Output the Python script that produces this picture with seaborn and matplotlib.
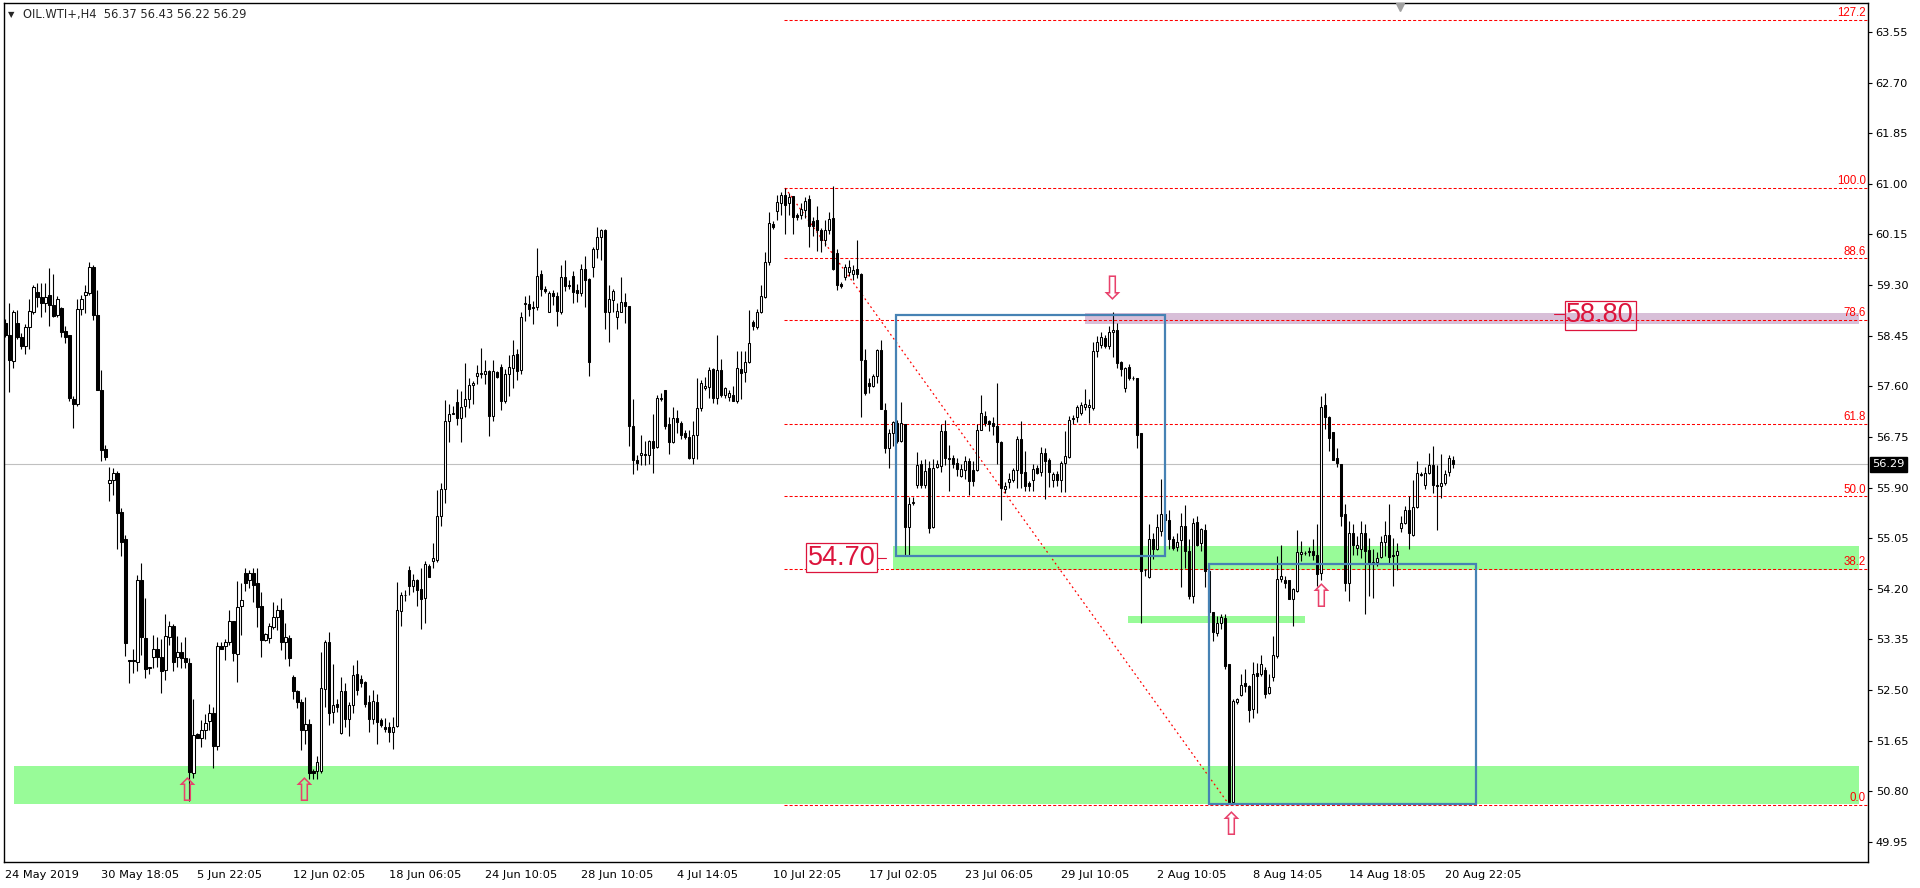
import matplotlib
matplotlib.use("Agg")
import matplotlib.pyplot as plt
import seaborn as sns
import pandas as pd
import numpy as np
from matplotlib.patches import Rectangle

# H4 bars of OIL.WTI+ (bar 0 = 24 May 2019)
opens = [
    58.67, 58.47, 58.02, 58.67, 58.43, 58.28, 58.59, 58.85, 59.18, 59.10,
    59.00, 59.13, 58.97, 58.79, 58.92, 58.53, 58.46, 57.39, 57.30, 58.90,
    59.13, 59.16, 59.60, 58.80, 57.54, 56.54, 55.98, 56.03, 56.14, 55.49,
    55.03, 53.00, 53.00, 52.97, 54.35, 53.38, 52.87, 53.06, 53.18, 53.05,
    52.83, 53.39, 53.58, 53.06, 53.13, 53.03, 52.96, 51.11, 51.76, 51.69,
    51.83, 51.97, 52.12, 51.56, 53.23, 53.23, 53.30, 53.66, 53.11, 53.91,
    54.47, 54.34, 54.47, 54.29, 53.91, 53.34, 53.37, 53.56, 53.72, 53.84,
    53.30, 53.37, 52.72, 52.49, 52.30, 51.82, 51.92, 51.14, 51.14, 51.14,
    52.52, 53.31, 52.13, 52.26, 51.78, 52.49, 52.01, 52.24, 52.77, 52.69,
    52.63, 52.29, 52.01, 52.30, 51.99, 51.88, 51.88, 51.80, 51.90, 53.83,
    54.09, 54.52, 54.24, 54.35, 54.20, 54.04, 54.58, 54.66, 54.68, 55.42,
    55.88, 57.01, 57.14, 57.33, 57.06, 57.27, 57.38, 57.63, 57.77, 57.81,
    57.80, 57.86, 57.10, 57.84, 57.93, 57.35, 57.81, 57.91, 58.15, 57.87,
    58.99, 58.99, 58.94, 58.93, 59.48, 59.24, 58.84, 59.16, 59.12, 58.84,
    59.44, 59.31, 59.46, 59.21, 59.16, 59.57, 59.40, 59.60, 59.91, 60.11,
    60.23, 58.84, 59.05, 58.77, 58.84, 59.01, 58.95, 56.94, 56.37, 56.45,
    56.47, 56.44, 56.68, 56.58, 57.39, 57.54, 56.97, 56.66, 57.07, 56.99,
    56.81, 56.75, 56.40, 56.79, 57.24, 57.57, 57.59, 57.89, 57.41, 57.88,
    57.46, 57.42, 57.46, 57.35, 57.89, 57.84, 58.00, 58.68, 58.60, 58.84,
    59.10, 59.68, 60.33, 60.54, 60.68, 60.82, 60.68, 60.79, 60.47, 60.48,
    60.56, 60.75, 60.37, 60.39, 60.22, 60.05, 60.22, 60.43, 59.84, 59.32,
    59.44, 59.52, 59.49, 59.57, 59.49, 58.05, 57.65, 57.61, 57.78, 58.21,
    57.21, 56.56, 56.81, 56.98, 56.68, 56.96, 55.24, 55.64, 55.95, 56.29,
    55.95, 56.23, 55.24, 56.25, 56.26, 56.85, 56.38, 56.40, 56.31, 56.09,
    56.19, 56.34, 56.19, 56.19, 56.87, 57.10, 57.01, 56.98, 56.93, 56.66,
    55.87, 55.99, 56.03, 56.19, 56.72, 56.16, 55.97, 56.02, 56.23, 56.16,
    56.48, 56.36, 56.02, 56.12, 56.02, 56.31, 56.41, 57.05, 57.09, 57.15,
    57.26, 57.25, 57.24, 58.19, 58.30, 58.41, 58.27, 58.51, 58.54, 58.00,
    57.57, 57.93, 57.74, 57.74, 56.81, 54.52, 54.40, 55.04, 54.87, 55.17,
    55.46, 55.36, 55.04, 54.90, 55.02, 55.25, 54.83, 54.08, 55.32, 54.97,
    55.19, 54.50, 53.81, 53.46, 53.62, 53.71, 52.93, 50.61, 52.30, 52.41,
    52.61, 52.57, 52.18, 52.78, 52.76, 52.84, 52.45, 52.72, 53.07, 54.37,
    54.35, 54.34, 54.03, 54.16, 54.79, 54.80, 54.83, 54.83, 54.77, 54.47,
    57.28, 57.09, 56.84, 56.40, 56.30, 55.46, 54.29, 55.13, 54.89, 54.87,
    55.14, 54.85, 54.61, 54.65, 54.74, 54.98, 55.11, 54.77, 54.76, 55.22,
    55.31, 55.53, 55.11, 55.57, 56.11, 55.95, 56.15, 56.27, 55.95, 55.93,
    55.97, 56.16, 56.37,
]
highs = [
    58.73, 59.00, 58.88, 58.89, 58.49, 58.64, 59.06, 59.30, 59.33, 59.34,
    59.33, 59.58, 59.49, 59.12, 58.94, 58.62, 58.46, 57.44, 59.06, 59.13,
    59.30, 59.69, 59.64, 59.22, 57.87, 56.61, 56.24, 56.22, 56.17, 55.55,
    55.11, 53.01, 53.19, 54.43, 54.64, 54.04, 52.89, 53.42, 53.39, 53.36,
    53.78, 53.66, 53.60, 53.41, 53.30, 53.39, 53.03, 52.34, 51.77, 51.99,
    52.10, 52.27, 52.22, 53.31, 53.31, 53.35, 53.85, 53.66, 54.33, 54.30,
    54.55, 54.52, 54.55, 54.55, 54.15, 53.45, 53.62, 53.98, 53.92, 54.04,
    53.62, 53.42, 52.75, 52.50, 52.34, 52.38, 52.01, 51.17, 51.39, 53.13,
    53.34, 53.47, 52.94, 52.35, 52.71, 52.61, 52.29, 52.92, 53.00, 52.75,
    52.65, 52.41, 52.50, 52.44, 52.03, 52.03, 51.96, 52.04, 54.32, 54.15,
    54.18, 54.58, 54.45, 54.37, 54.55, 54.66, 54.61, 54.96, 55.86, 55.98,
    57.37, 57.30, 57.27, 57.55, 57.52, 57.99, 57.74, 57.69, 57.95, 58.24,
    58.05, 57.88, 58.05, 57.85, 57.98, 57.89, 58.12, 58.38, 58.22, 58.84,
    59.11, 59.14, 59.04, 59.92, 59.55, 59.28, 59.20, 59.21, 59.18, 59.64,
    59.73, 59.38, 59.53, 59.32, 59.66, 59.79, 59.42, 59.94, 60.28, 60.24,
    60.24, 59.31, 59.24, 59.00, 59.44, 59.17, 58.95, 57.38, 56.44, 56.79,
    56.68, 56.70, 57.14, 57.46, 57.48, 57.54, 57.09, 57.25, 57.20, 57.01,
    56.86, 56.87, 57.01, 57.74, 57.70, 57.76, 57.93, 57.91, 58.47, 58.06,
    57.59, 57.53, 57.61, 58.19, 58.19, 58.19, 58.89, 58.71, 58.90, 59.31,
    59.85, 60.52, 60.37, 60.82, 60.87, 60.93, 60.85, 60.80, 60.51, 60.68,
    60.78, 60.82, 60.45, 60.63, 60.26, 60.40, 60.52, 60.96, 59.91, 59.36,
    59.66, 59.73, 59.63, 60.06, 59.50, 58.22, 57.74, 57.81, 58.23, 58.37,
    57.32, 56.88, 57.01, 57.04, 57.33, 56.96, 55.74, 55.74, 56.49, 56.37,
    56.38, 56.34, 56.38, 56.36, 56.97, 57.03, 56.61, 56.45, 56.40, 56.29,
    56.43, 56.40, 56.34, 56.96, 57.46, 57.18, 57.03, 57.09, 57.65, 56.68,
    56.00, 56.15, 56.23, 56.76, 57.01, 56.51, 56.01, 56.30, 56.27, 56.58,
    56.57, 56.40, 56.16, 56.17, 56.34, 56.85, 57.10, 57.11, 57.28, 57.33,
    57.56, 57.39, 58.34, 58.44, 58.52, 58.47, 58.62, 58.84, 58.66, 58.02,
    57.92, 57.98, 57.77, 57.74, 56.81, 54.53, 55.28, 55.13, 55.45, 56.04,
    55.53, 55.52, 55.08, 55.13, 55.48, 55.61, 55.03, 55.39, 55.43, 55.22,
    55.29, 54.58, 53.81, 53.75, 53.77, 53.77, 52.93, 52.34, 52.37, 52.76,
    52.86, 52.59, 52.97, 52.96, 53.08, 52.89, 52.76, 53.41, 54.75, 54.93,
    54.41, 54.35, 54.21, 55.19, 55.00, 54.83, 54.90, 55.03, 55.29, 57.43,
    57.48, 57.10, 56.84, 56.56, 56.30, 55.63, 55.33, 55.28, 55.09, 55.33,
    55.29, 55.05, 54.86, 54.81, 55.08, 55.33, 55.63, 55.05, 54.97, 55.42,
    55.59, 55.75, 56.03, 56.34, 56.16, 56.25, 56.48, 56.60, 56.27, 56.47,
    56.20, 56.45, 56.43,
]
lows = [
    58.43, 57.51, 57.90, 58.40, 58.23, 58.14, 58.23, 58.82, 58.94, 58.77,
    58.85, 58.62, 58.76, 58.76, 58.43, 58.32, 57.35, 56.90, 57.27, 58.80,
    58.83, 59.13, 58.71, 57.53, 56.35, 56.37, 55.67, 55.77, 54.87, 54.75,
    53.07, 52.62, 52.79, 52.81, 53.09, 52.70, 52.76, 52.87, 52.88, 52.45,
    52.67, 53.25, 52.82, 52.88, 52.87, 52.87, 50.63, 51.02, 51.69, 51.55,
    51.67, 51.83, 51.19, 51.49, 53.18, 53.01, 53.25, 52.99, 52.64, 53.42,
    54.16, 54.21, 53.98, 53.56, 53.06, 53.33, 53.29, 53.53, 53.50, 53.17,
    53.02, 52.91, 52.35, 52.19, 51.49, 51.60, 51.01, 51.01, 51.01, 51.10,
    52.22, 51.91, 51.95, 52.13, 51.76, 51.88, 51.72, 52.11, 52.41, 52.55,
    52.21, 51.79, 51.93, 51.60, 51.88, 51.79, 51.62, 51.51, 51.88, 53.58,
    54.00, 54.09, 54.15, 53.91, 53.53, 53.62, 54.39, 54.54, 54.65, 55.26,
    55.64, 56.67, 57.13, 56.95, 56.67, 57.08, 57.24, 57.31, 57.64, 57.74,
    57.64, 56.76, 57.01, 57.74, 57.20, 57.32, 57.44, 57.57, 57.70, 57.81,
    58.69, 58.78, 58.65, 58.88, 59.11, 59.16, 58.84, 58.97, 58.61, 58.82,
    59.20, 59.23, 59.00, 59.01, 59.12, 58.93, 57.77, 59.44, 59.76, 59.72,
    58.56, 58.34, 58.84, 58.56, 58.84, 58.66, 56.60, 56.12, 56.19, 56.27,
    56.27, 56.29, 56.14, 56.57, 57.35, 56.88, 56.47, 56.64, 56.82, 56.71,
    56.72, 56.38, 56.30, 56.38, 57.18, 57.53, 57.41, 57.32, 57.31, 57.42,
    57.41, 57.35, 57.35, 57.32, 57.39, 57.68, 57.99, 58.54, 58.56, 58.83,
    59.08, 59.63, 60.24, 60.39, 60.47, 60.16, 60.47, 60.16, 60.40, 60.41,
    60.43, 59.94, 60.13, 59.87, 59.85, 59.96, 60.16, 59.55, 59.21, 59.25,
    59.38, 59.46, 59.38, 59.42, 57.09, 57.46, 57.49, 57.59, 57.65, 57.22,
    56.48, 56.23, 56.59, 56.65, 56.66, 54.76, 54.76, 55.61, 55.89, 55.89,
    55.89, 55.13, 55.22, 56.23, 56.16, 56.27, 55.84, 56.23, 56.09, 56.08,
    56.05, 55.77, 55.93, 56.17, 56.86, 56.93, 56.85, 56.79, 56.29, 55.35,
    55.81, 55.89, 55.99, 55.89, 55.89, 55.84, 55.84, 55.84, 56.13, 56.10,
    55.71, 55.91, 55.91, 55.93, 55.82, 55.82, 56.40, 56.96, 57.00, 57.11,
    57.20, 56.98, 57.21, 58.09, 58.24, 58.24, 58.23, 58.09, 57.91, 57.78,
    57.50, 57.71, 57.71, 56.57, 53.63, 54.41, 54.38, 54.70, 54.85, 55.08,
    55.30, 54.86, 54.85, 54.83, 54.23, 54.55, 54.02, 53.96, 54.91, 54.83,
    54.23, 53.77, 53.32, 53.41, 53.53, 52.86, 50.59, 50.59, 52.26, 52.40,
    52.46, 51.96, 52.03, 52.12, 52.74, 52.37, 52.44, 52.65, 53.04, 54.31,
    54.21, 54.03, 53.57, 54.14, 54.66, 54.77, 54.75, 54.69, 54.24, 54.35,
    56.88, 56.51, 56.36, 56.25, 55.25, 54.16, 53.99, 54.77, 54.76, 54.72,
    53.77, 54.07, 54.05, 54.58, 54.72, 54.75, 54.61, 54.24, 54.52, 55.15,
    55.29, 54.86, 55.09, 55.56, 56.09, 55.88, 56.13, 55.81, 55.18, 55.73,
    55.95, 56.10, 56.22,
]
closes = [
    58.46, 58.04, 58.85, 58.43, 58.28, 58.59, 58.86, 59.26, 59.10, 59.00,
    59.10, 58.97, 58.78, 59.07, 58.52, 58.43, 57.41, 57.30, 58.90, 59.06,
    59.18, 59.60, 58.80, 57.54, 56.53, 56.42, 56.03, 56.15, 55.47, 54.99,
    53.29, 52.98, 52.98, 54.35, 53.39, 52.85, 52.88, 53.19, 53.06, 52.82,
    53.41, 53.57, 52.97, 53.13, 53.03, 52.97, 51.13, 51.74, 51.70, 51.83,
    51.95, 52.11, 51.56, 53.23, 53.19, 53.31, 53.66, 53.12, 53.90, 54.01,
    54.30, 54.47, 54.27, 53.90, 53.34, 53.44, 53.58, 53.73, 53.84, 53.31,
    53.39, 53.04, 52.49, 52.30, 51.82, 51.93, 51.11, 51.10, 51.29, 52.54,
    53.31, 52.11, 52.24, 52.21, 52.49, 52.01, 52.24, 52.75, 52.50, 52.61,
    52.26, 52.01, 52.32, 51.96, 51.91, 51.85, 51.79, 51.88, 53.85, 54.10,
    54.10, 54.24, 54.34, 54.18, 54.03, 54.61, 54.40, 54.71, 55.42, 55.88,
    57.01, 57.14, 57.16, 57.07, 57.26, 57.38, 57.63, 57.66, 57.83, 57.83,
    57.85, 57.10, 57.85, 57.76, 57.35, 57.80, 57.93, 58.13, 57.85, 58.77,
    59.00, 58.90, 58.92, 59.46, 59.24, 59.20, 59.16, 59.12, 58.86, 59.44,
    59.28, 59.29, 59.18, 59.17, 59.57, 59.39, 58.00, 59.91, 60.11, 60.22,
    58.84, 59.07, 59.20, 58.86, 59.01, 58.95, 56.94, 56.36, 56.32, 56.48,
    56.44, 56.68, 56.57, 57.40, 57.40, 56.94, 56.66, 57.07, 57.00, 56.79,
    56.75, 56.40, 56.79, 57.24, 57.65, 57.60, 57.88, 57.41, 57.88, 57.46,
    57.57, 57.48, 57.35, 57.91, 57.82, 58.00, 58.33, 58.61, 58.84, 59.11,
    59.68, 60.34, 60.28, 60.69, 60.82, 60.65, 60.78, 60.44, 60.44, 60.57,
    60.72, 60.29, 60.30, 60.22, 60.06, 60.22, 60.41, 59.57, 59.31, 59.29,
    59.60, 59.60, 59.56, 59.49, 58.05, 57.48, 57.61, 57.78, 58.21, 57.22,
    56.56, 56.82, 57.00, 56.68, 56.98, 55.24, 55.63, 55.65, 56.27, 55.95,
    56.17, 55.22, 56.23, 56.29, 56.85, 56.40, 56.40, 56.30, 56.21, 56.21,
    56.34, 56.01, 56.01, 56.87, 57.16, 56.98, 56.96, 56.93, 56.66, 55.89,
    55.93, 56.04, 56.20, 56.71, 56.15, 55.93, 55.92, 56.21, 56.15, 56.48,
    56.34, 56.16, 56.12, 56.02, 56.31, 56.43, 57.03, 57.07, 57.25, 57.28,
    57.31, 57.28, 58.19, 58.34, 58.43, 58.27, 58.52, 58.54, 57.99, 57.89,
    57.91, 57.74, 57.74, 56.79, 54.50, 54.51, 55.04, 54.87, 55.24, 55.46,
    55.36, 55.03, 54.89, 54.99, 55.26, 54.83, 54.08, 55.31, 54.94, 55.21,
    54.50, 53.81, 53.47, 53.63, 53.73, 52.91, 50.61, 52.31, 52.34, 52.59,
    52.56, 52.16, 52.76, 52.74, 52.93, 52.44, 52.55, 53.08, 54.37, 54.41,
    54.29, 54.03, 54.19, 54.81, 54.81, 54.80, 54.81, 54.76, 54.44, 57.26,
    57.09, 56.73, 56.37, 56.31, 55.43, 54.29, 55.13, 54.94, 54.94, 55.14,
    54.83, 54.61, 54.65, 54.72, 54.99, 55.11, 54.73, 54.75, 54.83, 55.31,
    55.53, 55.13, 55.57, 56.15, 56.13, 56.15, 56.27, 55.95, 55.93, 55.98,
    56.12, 56.40, 56.29,
]

date_labels = ["24 May 2019", "30 May 18:05", "5 Jun 22:05", "12 Jun 02:05",
               "18 Jun 06:05", "24 Jun 10:05", "28 Jun 10:05", "4 Jul 14:05",
               "10 Jul 22:05", "17 Jul 02:05", "23 Jul 06:05", "29 Jul 10:05",
               "2 Aug 10:05", "8 Aug 14:05", "14 Aug 18:05", "20 Aug 22:05"]
date_label_bars = [0, 24, 48, 72, 96, 120, 144, 168, 192, 216, 240, 264, 288, 312, 336, 360]
price_ticks = [49.95, 50.80, 51.65, 52.50, 53.35, 54.20, 55.05, 55.90,
               56.75, 57.60, 58.45, 59.30, 60.15, 61.00, 61.85, 62.70, 63.55]

fib_levels = [0.0, 38.2, 50.0, 61.8, 78.6, 88.6, 100.0, 127.2]
fib_high, fib_low = 60.93, 50.57
fib_bars = [195, 306]

last_price = 56.29
support_label, resist_label = "54.70", "58.80"

df = pd.DataFrame({"open": opens, "high": highs, "low": lows, "close": closes})
df["bar"] = np.arange(len(df))

sns.set_style("white")
plt.rcParams["font.family"] = ["DejaVu Sans"]
plt.rcParams["lines.scale_dashes"] = False

W, H = 1920, 888
fig = plt.figure(figsize=(W / 100, H / 100), dpi=100)
ax = fig.add_axes([4 / W, 1 - 862 / H, 1864 / W, 858.5 / H])
ax.set_xlim(-0.33, 465.7)
ax.set_ylim(49.61, 64.03)

RED = "#FF0000"
CRIMSON = "#DC143C"
BLUE = "#4682B4"
GREEN = "#98FB98"
PINK_ARROW = "#E8416B"

# zones
ax.add_patch(Rectangle((2.1, 50.58), 461.3, 0.65, fc=GREEN, ec="none", zorder=1))
ax.add_patch(Rectangle((222.0, 54.52), 241.4, 0.39, fc=GREEN, ec="none", zorder=1))
ax.add_patch(Rectangle((280.7, 53.63), 44.3, 0.12, fc=GREEN, ec="none", zorder=1))
ax.add_patch(Rectangle((269.9, 58.64), 193.5, 0.19, fc="#D8BFD8", ec="none", zorder=1))

# current price line
ax.axhline(last_price, color="#C0C0C0", lw=0.8, zorder=1.5)

# fibonacci
span = fib_high - fib_low
for lvl in fib_levels:
    p = fib_low + span * lvl / 100
    ax.plot([fib_bars[0] - 0.3, 465.7], [p, p], color=RED, lw=0.75,
            dashes=(2.2, 1.45), zorder=2)
    ax.annotate(f"{lvl:.1f}", xy=(1, p), xycoords=("axes fraction", "data"),
                xytext=(-1.5, 0.6), textcoords="offset points", ha="right", va="bottom",
                color=RED, fontsize=8.3, family="Liberation Sans", zorder=6)
sns.lineplot(x=fib_bars, y=[fib_high, fib_low], ax=ax, color=RED, lw=0.9,
             dashes=False, zorder=2).lines[-1].set_dashes((1.3, 2.2))

# candles
up = df["close"] >= df["open"]
body_lo = df[["open", "close"]].min(axis=1)
body_h = (df["close"] - df["open"]).abs()
ax.vlines(df["bar"], df["low"], df["high"], color="black", lw=0.8, zorder=3)
ax.bar(df["bar"][up], body_h[up], bottom=body_lo[up], width=0.6, color="white",
       edgecolor="black", linewidth=0.75, zorder=4)
ax.bar(df["bar"][~up], body_h[~up], bottom=body_lo[~up], width=0.6, color="black",
       edgecolor="black", linewidth=0.75, zorder=4)

# boxes
ax.add_patch(Rectangle((222.8, 54.75), 67.1, 4.05, fill=False, ec=BLUE, lw=1.6, zorder=5))
ax.add_patch(Rectangle((300.9, 50.58), 66.7, 4.03, fill=False, ec=BLUE, lw=1.6, zorder=5))

# price labels
ax.plot([217.4, 220.2], [54.72, 54.72], color=CRIMSON, lw=0.8, zorder=6)
ax.text(200.7, 54.72, support_label, ha="left", va="center", fontsize=19.5,
        family="Liberation Sans", color=CRIMSON, zorder=7,
        bbox=dict(boxstyle="square,pad=0.06", fc="white", ec=CRIMSON, lw=0.9))
ax.plot([387.2, 389.8], [58.81, 58.81], color=CRIMSON, lw=0.8, zorder=6)
ax.text(390.3, 58.79, resist_label, ha="left", va="center", fontsize=19.5,
        family="Liberation Sans", color=CRIMSON, zorder=7,
        bbox=dict(boxstyle="square,pad=0.06", fc="none", ec=CRIMSON, lw=0.9))

# hollow arrows
for b, p, ch in [(45.5, 50.77, "\u21e7"), (74.6, 50.77, "\u21e7"), (306.4, 50.21, "\u21e7"),
                 (329.0, 54.03, "\u21e7"), (276.8, 59.21, "\u21e9")]:
    ax.text(b, p, ch, ha="center", va="center", fontsize=23, color=PINK_ARROW, zorder=7)

# shift marker
ax.plot([348.7], [63.97], marker="v", color="#A0A0A0", ms=6, clip_on=False, zorder=8)

# axes styling
ax.yaxis.tick_right()
ax.set_yticks(price_ticks)
ax.set_yticklabels([f"{p:.2f}" for p in price_ticks])
ax.tick_params(axis="y", direction="out", length=3, width=0.8, pad=2.5,
               labelsize=8.2, colors="black")
ax.set_xticks(date_label_bars)
ax.set_xticklabels(date_labels)
for lab in ax.get_xticklabels():
    lab.set_horizontalalignment("left")
ax.tick_params(axis="x", direction="out", length=3, width=0.8, pad=2.5,
               labelsize=8.2, colors="black")
for s in ax.spines.values():
    s.set_color("black")
    s.set_linewidth(1.0)
ax.grid(False)

ax.annotate(f"{last_price:.2f}", xy=(1, last_price), xycoords=("axes fraction", "data"),
            xytext=(3.2, 0), textcoords="offset points", ha="left", va="center",
            fontsize=8.2, color="white",
            bbox=dict(boxstyle="square,pad=0.22", fc="black", ec="black"))

fig.text(8 / W, 1 - 14.5 / H, "\u25bc", fontsize=6, va="center", ha="left")
fig.text(23 / W, 1 - 14.5 / H, "OIL.WTI+,H4  56.37 56.43 56.22 56.29",
         fontsize=8.3, va="center", ha="left")

fig.savefig("out.png", dpi=100)
